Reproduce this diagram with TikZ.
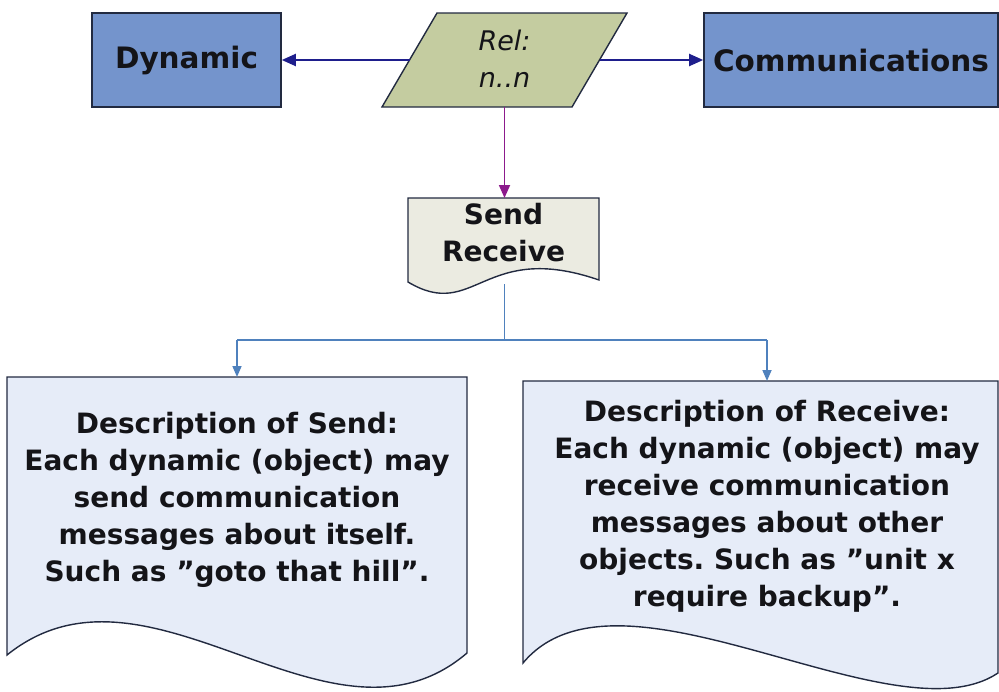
\documentclass[tikz,border=0pt]{standalone}
\usepackage{fontspec}
\setmainfont{DejaVu Sans}
\usetikzlibrary{arrows.meta}
\frenchspacing

\definecolor{boxblue}{RGB}{116,148,204}
\definecolor{boxedge}{RGB}{34,42,64}
\definecolor{relfill}{RGB}{196,204,160}
\definecolor{srfill}{RGB}{235,235,225}
\definecolor{descfill}{RGB}{230,236,248}
\definecolor{navyline}{RGB}{30,30,140}
\definecolor{plumline}{RGB}{140,26,140}
\definecolor{steelline}{RGB}{79,129,189}
\definecolor{inkdark}{RGB}{20,20,24}

\begin{document}
\begin{tikzpicture}[x=1pt,y=-1pt,
  bluebox/.style={draw=boxedge, line width=1.6pt, fill=boxblue, inner sep=0pt,
    font=\fontsize{29.5}{34}\selectfont\bfseries, text=inkdark},
  outline/.style={draw=boxedge, line width=1.4pt},
  bodytext/.style={align=center, inner sep=0pt, text=inkdark,
    font=\fontsize{28}{37}\selectfont\bfseries},
  reltext/.style={align=center, inner sep=0pt, text=inkdark,
    font=\fontsize{27}{37}\selectfont\itshape},
  navyarrow/.style={draw=navyline, line width=2pt, -{Triangle[length=14pt,width=12pt]}},
  plumarrow/.style={draw=plumline, line width=1.8pt, -{Triangle[length=13pt,width=11pt]}},
  steelline/.style={draw=steelline, line width=1.7pt},
  steelarrow/.style={steelline, -{Triangle[length=11pt,width=9pt]}}
]
\useasboundingbox (0,0) rectangle (999,691);

% entity boxes
\node[bluebox, minimum width=189pt, minimum height=94pt] (dyn) at (186.5,60) {Dynamic};
\node[bluebox, minimum width=294pt, minimum height=94pt] (com) at (851,60) {Communications};

% relation parallelogram
\filldraw[outline, fill=relfill] (382,107) -- (572,107) -- (627,13) -- (437,13) -- cycle;
\node[reltext] (rel) at (504.5,59) {Rel:\\n..n};
\coordinate (relW) at (409.5,60);
\coordinate (relE) at (599.5,60);
\coordinate (relS) at (504.5,107);

% send / receive document
\filldraw[outline, fill=srfill] (408,198) -- (599,198) -- (599,280)
  .. controls (483,240) and (475,322) .. (408,282) -- cycle;
\node[bodytext] (sr) at (503.5,233) {Send\\Receive};
\coordinate (srN) at (504.5,198);
\coordinate (srS) at (504.5,284);

% description documents
\filldraw[outline, fill=descfill] (7,377) -- (467,377) -- (467,653)
  .. controls (330,770) and (150,540) .. (7,655) -- cycle;
\node[bodytext] (sendd) at (237,500) {Description of Send:\\Each dynamic (object) may\\send communication\\messages about itself.\\Such as ”goto that hill”.};
\coordinate (senddN) at (237,377);

\filldraw[outline, fill=descfill] (523,381) -- (998,381) -- (998,673)
  .. controls (893,743) and (619,548) .. (523,663) -- cycle;
\node[bodytext] (recvd) at (767,506) {Description of Receive:\\Each dynamic (object) may\\receive communication\\messages about other\\objects. Such as ”unit x\\require backup”.};
\coordinate (recvdN) at (767,381);

% connectors
\draw[navyarrow] (relW) -- (dyn.east);
\draw[navyarrow] (relE) -- (com.west);
\draw[plumarrow] (relS) -- (srN);

\coordinate (fork) at (504.5,340);
\coordinate (forkL) at (237,340);
\coordinate (forkR) at (767,340);
\draw[steelline] (srS) -- (fork);
\draw[steelline] (forkL) -- (forkR);
\draw[steelarrow] (forkL) -- (senddN);
\draw[steelarrow] (forkR) -- (recvdN);
\end{tikzpicture}
\end{document}
